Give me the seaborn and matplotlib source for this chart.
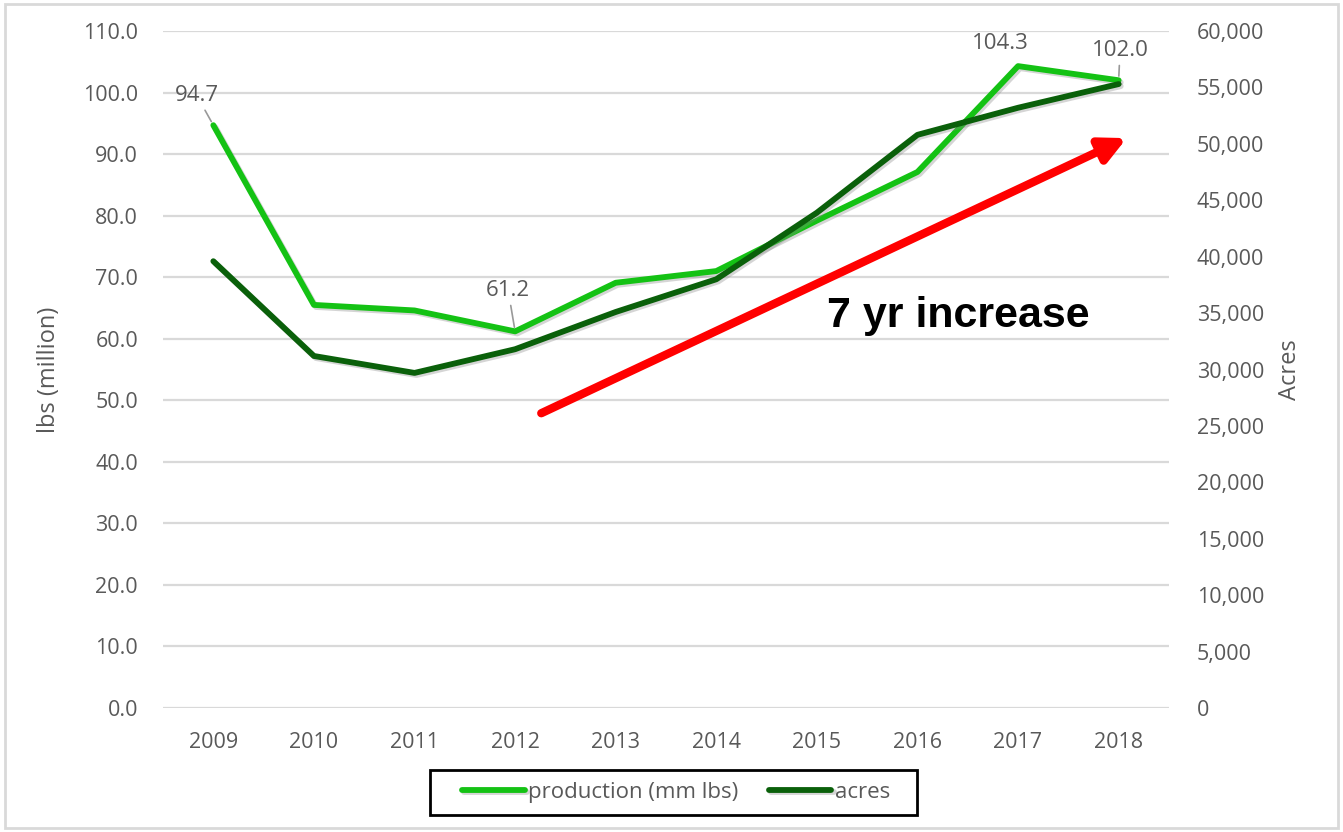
import matplotlib
matplotlib.use("Agg")
import matplotlib.pyplot as plt
import matplotlib.patheffects as pe
from matplotlib.ticker import FuncFormatter, MultipleLocator
import pandas as pd
import seaborn as sns

years = ['2009', '2010', '2011', '2012', '2013', '2014', '2015', '2016', '2017', '2018']
production = [94.7, 65.5, 64.6, 61.2, 69.1, 71.0, 79.2, 87.1, 104.3, 102.0]
acres = [39600, 31200, 29700, 31800, 35100, 38000, 43900, 50800, 53200, 55300]
labelled = {'2009': 94.7, '2012': 61.2, '2017': 104.3, '2018': 102.0}

df = pd.DataFrame({'year': years, 'production': production, 'acres': acres})

sns.set_theme(style='white')
plt.rcParams['font.family'] = ['Open Sans', 'DejaVu Sans']

light_green = '#14c214'
dark_green = '#0a600a'
text_grey = '#595959'
shadow = [pe.SimpleLineShadow(offset=(1.5, -1.5), shadow_color='#888888', alpha=0.35),
          pe.Normal()]

fig = plt.figure(figsize=(13.43, 8.32), dpi=100)
ax = fig.add_axes([0.1214, 0.149, 0.749, 0.8137])
ax2 = ax.twinx()

sns.lineplot(data=df, x='year', y='production', ax=ax, color=light_green,
             lw=4.2, sort=False, label='production (mm lbs)', legend=False,
             path_effects=shadow)
sns.lineplot(data=df, x='year', y='acres', ax=ax2, color=dark_green,
             lw=4.2, sort=False, label='acres', legend=False,
             path_effects=shadow)

ax.set_xlim(-0.5, len(years) - 0.5)
ax.set_ylim(0, 110)
ax2.set_ylim(0, 60000)
ax.yaxis.set_major_locator(MultipleLocator(10))
ax2.yaxis.set_major_locator(MultipleLocator(5000))
ax.yaxis.set_major_formatter(FuncFormatter(lambda v, p: f'{v:.1f}'))
ax2.yaxis.set_major_formatter(FuncFormatter(lambda v, p: f'{int(v):,}'))

ax.grid(axis='y', color='#d9d9d9', lw=1.6)
ax.set_axisbelow(True)
for a in (ax, ax2):
    for s in a.spines.values():
        s.set_visible(False)
    a.tick_params(length=0, labelsize=15.5, labelcolor=text_grey)
ax.tick_params(axis='y', pad=18)
ax.tick_params(axis='x', pad=17)
ax2.tick_params(axis='y', pad=20)

ax.set_xlabel('')
ax.set_ylabel('lbs (million)', fontsize=17, color=text_grey, labelpad=16)
ax2.set_ylabel('Acres', fontsize=17, color=text_grey, labelpad=10)

# data labels with leader lines
offsets = {'2009': (-12, 14), '2012': (-5, 22), '2017': (-13, 9), '2018': (1, 14)}
for yr, val in labelled.items():
    i = years.index(yr)
    ax2.annotate(f'{val:.1f}', xy=(i, val), xycoords=ax.transData,
                 xytext=offsets[yr], textcoords='offset points',
                 ha='center', va='bottom', fontsize=16, color=text_grey,
                 arrowprops=dict(arrowstyle='-', color='#999999', lw=1.2,
                                 shrinkA=1, shrinkB=3) if yr != '2017' else None)

# red trend arrow and note
ax2.annotate('', xy=(9.08, 92.6), xytext=(3.26, 47.9),
             xycoords=ax.transData, textcoords=ax.transData,
             arrowprops=dict(arrowstyle='-|>', color='#ff0000', lw=6,
                             mutation_scale=38, shrinkA=0, shrinkB=0))
ax2.text(7.41, 63.7, '7 yr increase', transform=ax.transData,
         ha='center', va='center', fontsize=31, fontweight='bold',
         color='black', family=['Liberation Sans', 'DejaVu Sans'])

# legend without its own frame, boxed separately to get the wide side padding
h1, l1 = ax.get_legend_handles_labels()
h2, l2 = ax2.get_legend_handles_labels()
leg = fig.legend(h1 + h2, l1 + l2, loc='center', bbox_to_anchor=(0.5035, 0.048),
                 ncol=2, frameon=False, fontsize=16,
                 handlelength=2.8, handletextpad=0.15, columnspacing=1.4)
for t in leg.get_texts():
    t.set_color(text_grey)
fig.patches.append(plt.Rectangle((0.3202, 0.0204), 0.3626, 0.0541, transform=fig.transFigure,
                                 fill=False, edgecolor='black', lw=2))

fig.patches.append(plt.Rectangle((0.004, 0.005), 0.992, 0.99, transform=fig.transFigure,
                                 fill=False, edgecolor='#d9d9d9', lw=2))

fig.savefig('out.png', dpi=100)
